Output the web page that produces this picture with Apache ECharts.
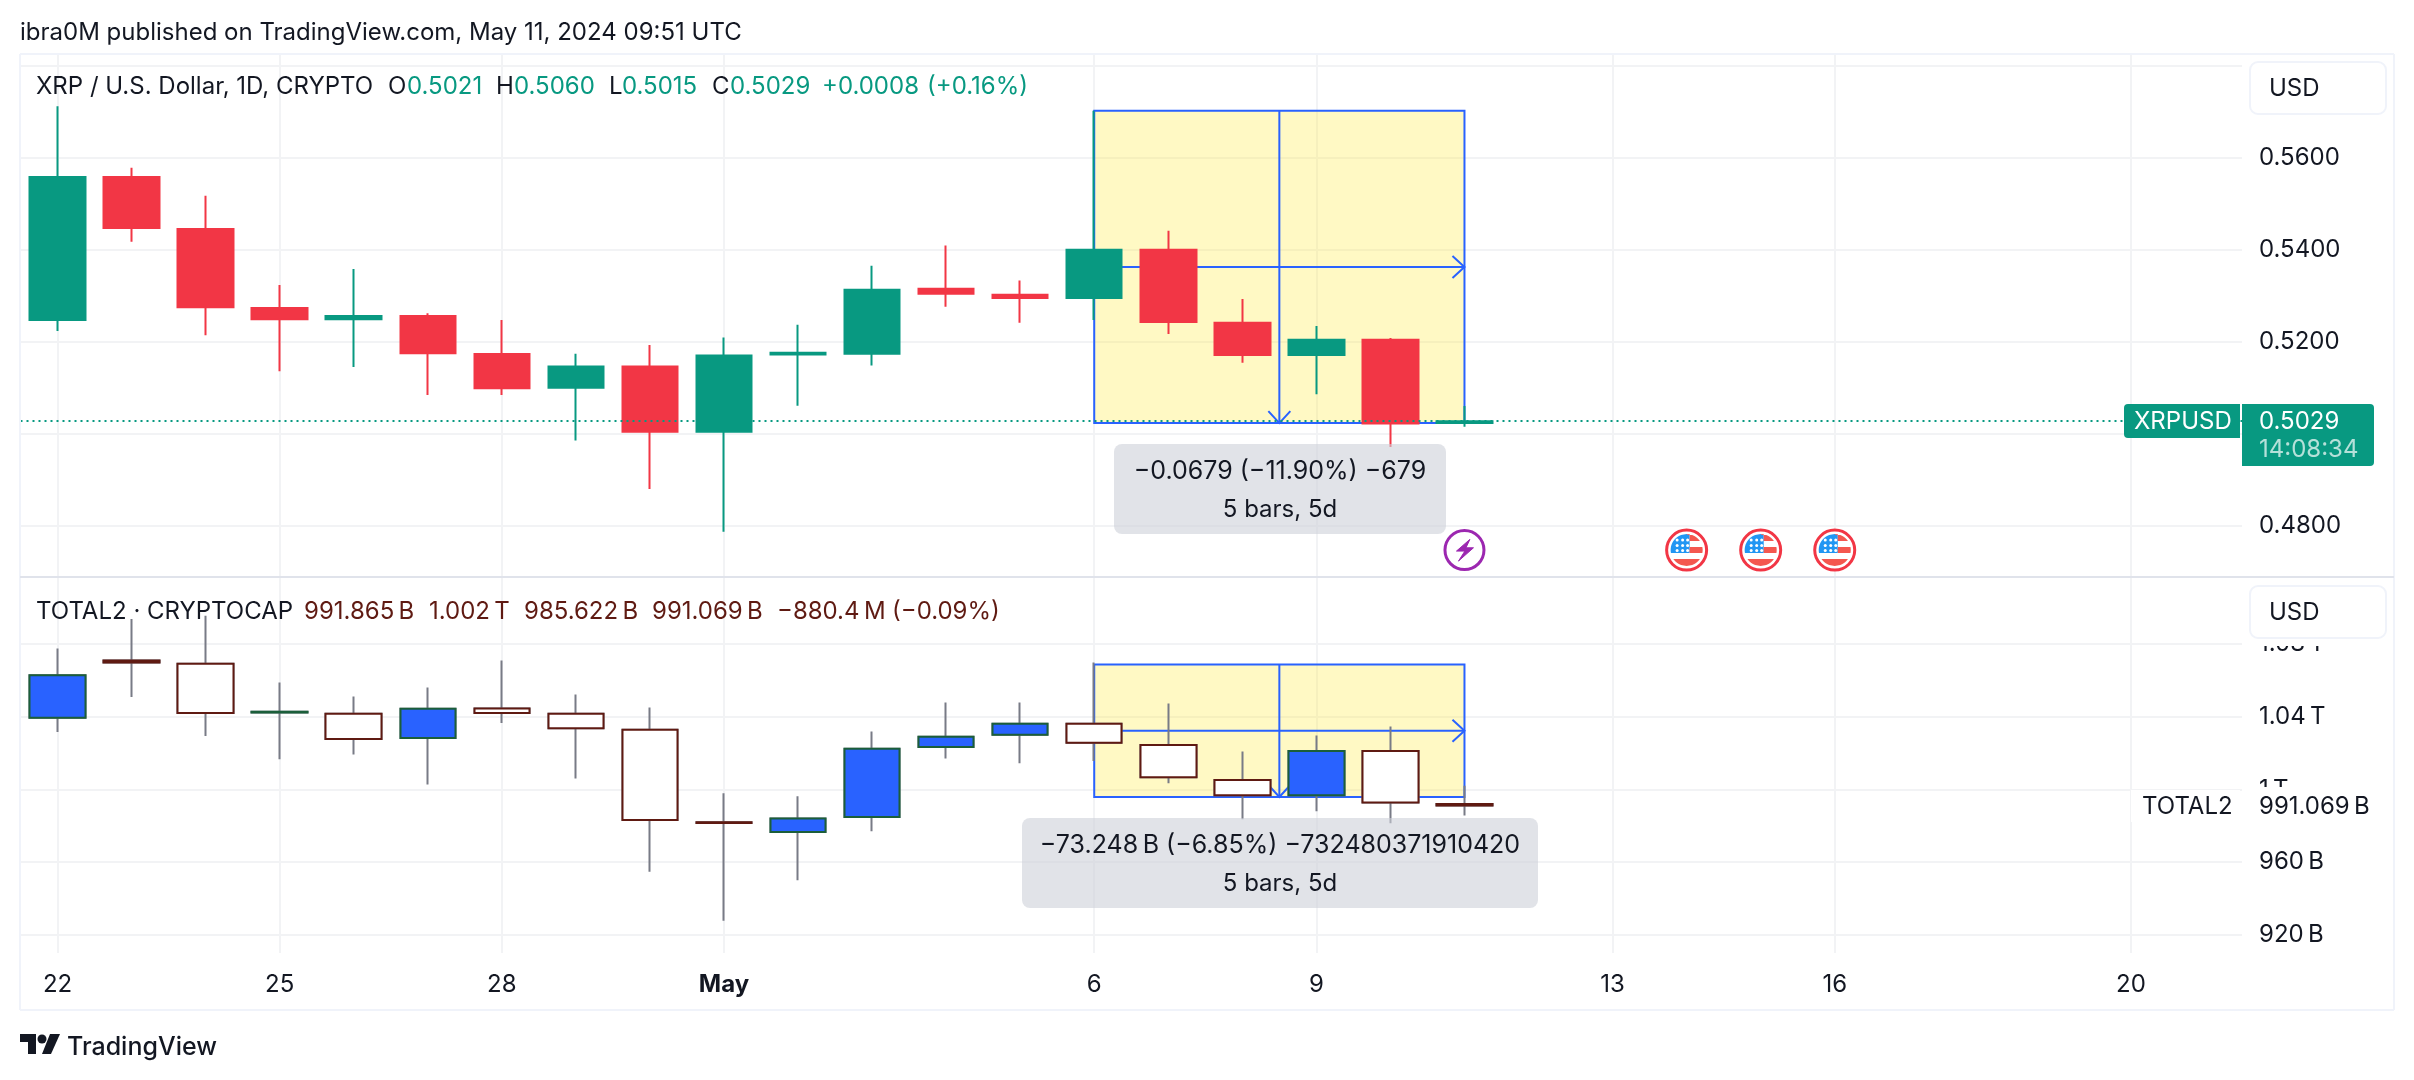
<!DOCTYPE html>
<html>
<head>
<meta charset="utf-8">
<title>XRP / TOTAL2</title>
<script src="https://cdn.jsdelivr.net/npm/echarts@6/dist/echarts.min.js"></script>
<style>
    html, body { margin: 0; background: #fff; }
    #chart { width: 2414px; height: 1080px; }
</style>
</head>
<body>
<div id="chart"></div>
<script>
// daily bars, Apr 22 onward (last 10 slots are empty future space)
const days = ['Apr 22', 'Apr 23', 'Apr 24', 'Apr 25', 'Apr 26', 'Apr 27', 'Apr 28', 'Apr 29', 'Apr 30', 'May 1',
    'May 2', 'May 3', 'May 4', 'May 5', 'May 6', 'May 7', 'May 8', 'May 9', 'May 10', 'May 11',
    'May 12', 'May 13', 'May 14', 'May 15', 'May 16', 'May 17', 'May 18', 'May 19', 'May 20', 'May 21']
const timeTickDays = ['Apr 22', 'Apr 25', 'Apr 28', 'May 1', 'May 6', 'May 9', 'May 13', 'May 16', 'May 20']
const timeTickLabels = ['22', '25', '28', 'May', '6', '9', '13', '16', '20']

// XRP / USD
const xrpOpen = [0.5245, 0.5560, 0.5447, 0.5275, 0.5247, 0.5258, 0.5175, 0.5098, 0.5148, 0.5002,
    0.5172, 0.5172, 0.5317, 0.5304, 0.5293, 0.5402, 0.5243, 0.5169, 0.5206, 0.5021]
const xrpClose = [0.5560, 0.5445, 0.5273, 0.5247, 0.5258, 0.5173, 0.5097, 0.5148, 0.5002, 0.5172,
    0.5176, 0.5315, 0.5302, 0.5293, 0.5402, 0.5241, 0.5169, 0.5206, 0.5020, 0.5029]
const xrpLow = [0.5223, 0.5417, 0.5214, 0.5136, 0.5145, 0.5084, 0.5084, 0.4985, 0.4880, 0.4787,
    0.5061, 0.5148, 0.5276, 0.5241, 0.5247, 0.5217, 0.5154, 0.5086, 0.4971, 0.5015]
const xrpHigh = [0.5712, 0.5578, 0.5517, 0.5323, 0.5358, 0.5262, 0.5247, 0.5174, 0.5193, 0.5209,
    0.5237, 0.5365, 0.5409, 0.5333, 0.5702, 0.5441, 0.5293, 0.5234, 0.5208, 0.5060]
const xrpLast = 0.5029
const xrpGridTicks = [0.48, 0.5, 0.52, 0.54, 0.56, 0.58]
const xrpLabelTicks = [0.48, 0.52, 0.54, 0.56]

// TOTAL2, in billions
const totalOpen = [1039.4, 1070.9, 1069.1, 1042.3, 1041.6, 1028.2, 1044.5, 1041.6, 1032.8, 981.9,
    976.5, 984.8, 1023.3, 1030.0, 1036.1, 1024.4, 1005.1, 996.7, 1021.1, 991.865]
const totalClose = [1062.8, 1069.8, 1042.0, 1042.7, 1027.7, 1044.3, 1042.0, 1033.7, 983.1, 981.5,
    983.9, 1022.4, 1029.0, 1036.1, 1025.6, 1006.6, 996.7, 1021.1, 992.7, 991.069]
const totalLow = [1031.5, 1050.8, 1029.3, 1016.5, 1019.2, 1002.7, 1036.5, 1006.0, 954.6, 927.6,
    950.0, 976.9, 1017.0, 1014.3, 1015.6, 1003.3, 983.5, 987.9, 981.3, 985.622]
const totalHigh = [1077.5, 1093.8, 1095.6, 1058.8, 1051.1, 1056.1, 1070.9, 1052.2, 1045.1, 997.8,
    996.2, 1031.9, 1047.8, 1047.8, 1069.8, 1047.3, 1020.9, 1029.7, 1034.6, 1002.0]
const totalGridTicks = [920, 960, 1000, 1040, 1080]

// measure tool ranges (May 6 -> May 11)
const measureDays = ['May 6', 'May 11']
const xrpMeasure = [0.5702, 0.5023]
const totalMeasure = [1068.7, 995.8]

// events under the XRP pane
const eventPrice = 0.4747
const boltDays = ['May 11']
const flagDays = ['May 14', 'May 15', 'May 16']

const GREEN = '#089981'
const RED = '#F23645'
const BLUE = '#2962FF'
const UP_EDGE = '#1B5E3A'
const DOWN_EDGE = '#5F1A12'
const WICK = '#787B86'
const TEXT = '#131722'
const MAROON = '#5F1A12'
const LINE = '#F0F3FA'
const GRID_LINE = '#F2F3F5'
const FONT = 'Inter'

const chart = echarts.init(document.getElementById('chart'))

function ohlc(open, close, low, high) {
    return open.map((o, i) => [o, close[i], low[i], high[i]])
}

// same as ohlc, but the body is pulled in by half the stroke width so the
// outer edge of the stroked body lands on the price
function insetOhlc(open, close, low, high, inset) {
    return open.map((o, i) => {
        const c = close[i]
        const dir = c > o ? 1 : -1
        const tall = Math.abs(c - o) > inset * 3
        return [tall ? o + dir * inset : o, tall ? c - dir * inset : c, low[i], high[i]]
    })
}

function isTimeTick(index) {
    return timeTickDays.includes(days[index])
}

// yellow range box with the two arrows of the TradingView measure tool
function renderMeasure(params, api) {
    const leftTop = api.coord([api.value(0), api.value(2)])
    const rightBottom = api.coord([api.value(1), api.value(3)])
    const x0 = leftTop[0]
    const y0 = leftTop[1]
    const x1 = rightBottom[0]
    const y1 = rightBottom[1]
    const mx = (x0 + x1) / 2
    const my = (y0 + y1) / 2
    const stroke = { stroke: BLUE, lineWidth: 2, fill: null }
    return {
        type: 'group',
        children: [
            { type: 'rect', shape: { x: x0, y: y0, width: x1 - x0, height: y1 - y0 }, style: { fill: 'rgba(255,235,59,0.3)', stroke: BLUE, lineWidth: 2 } },
            { type: 'line', shape: { x1: mx, y1: y0, x2: mx, y2: y1 }, style: stroke },
            { type: 'line', shape: { x1: x0, y1: my, x2: x1, y2: my }, style: stroke },
            { type: 'polyline', shape: { points: [[x1 - 12, my - 11], [x1, my], [x1 - 12, my + 11]] }, style: stroke },
            { type: 'polyline', shape: { points: [[mx - 11, y1 - 12], [mx, y1], [mx + 11, y1 - 12]] }, style: stroke },
        ],
    }
}

// part of a disc, used to draw the stripes of the flag
function discPart(x0, y0, x1, y1, r) {
    const left = []
    const right = []
    for (let y = y0; y <= y1; y += 1) {
        const half = Math.sqrt(Math.max(r * r - y * y, 0))
        left.push([Math.max(x0, -half), y])
        right.unshift([Math.min(x1, half), y])
    }
    return left.concat(right)
}

function renderBolt(params, api) {
    const p = api.coord([api.value(0), api.value(1)])
    return {
        type: 'group',
        x: p[0],
        y: p[1],
        children: [
            { type: 'circle', shape: { r: 19.5 }, style: { fill: '#fff', stroke: '#9C27B0', lineWidth: 3 } },
            { type: 'polygon', shape: { points: [[5.4, -10.7], [-8, 1], [0.4, 1], [-6, 11], [9, -2.3], [1.5, -2.3]] }, style: { fill: '#9C27B0', stroke: '#9C27B0', lineWidth: 1 } },
        ],
    }
}

function renderFlag(params, api) {
    const p = api.coord([api.value(0), api.value(1)])
    const children = [
        { type: 'circle', shape: { r: 20 }, style: { fill: '#fff', stroke: RED, lineWidth: 3 } },
        { type: 'polygon', shape: { points: discPart(-16, -16, 3, 3, 16) }, style: { fill: '#2196F3' } },
        { type: 'polygon', shape: { points: discPart(3, -16, 16, -9, 16) }, style: { fill: '#F4574F' } },
        { type: 'polygon', shape: { points: discPart(3, -3, 16, 3, 16) }, style: { fill: '#F4574F' } },
        { type: 'polygon', shape: { points: discPart(-16, 9, 16, 16, 16) }, style: { fill: '#F4574F' } },
    ]
    // white stars in the blue corner
    ;[-10, -4.5, 0.5].forEach((sy) => {
        ;[-9.5, -4, 1].forEach((sx) => {
            children.push({ type: 'circle', shape: { cx: sx, cy: sy, r: 1.5 }, style: { fill: '#fff' } })
        })
    })
    return { type: 'group', x: p[0], y: p[1], children: children }
}

function label(x, y, text, color, extra) {
    return {
        type: 'text',
        x: x,
        y: y + 1,
        z: 51,
        style: Object.assign({ text: text, fill: color || TEXT, font: '24px ' + FONT, verticalAlign: 'middle' }, extra),
    }
}

function panel(x, y, width, height, fill, extra) {
    return {
        type: 'rect',
        z: 50,
        shape: { x: x, y: y, width: width, height: height, r: (extra && extra.r) || 0 },
        style: Object.assign({ fill: fill }, extra && extra.style),
    }
}

function line(x1, y1, x2, y2, color) {
    return { type: 'line', z: 50, shape: { x1: x1, y1: y1, x2: x2, y2: y2 }, style: { stroke: color, lineWidth: 2 } }
}

const unitFormat = (value) => (value >= 1000 ? value / 1000 + '\u202fT' : value + '\u202fB')

const xAxisBase = {
    type: 'category',
    data: days,
    boundaryGap: true,
    axisLine: { show: false },
    axisTick: { show: false },
    splitLine: {
        show: true,
        alignWithLabel: true,
        interval: (index) => isTimeTick(index),
        lineStyle: { color: GRID_LINE, width: 2 },
    },
}

const yAxisBase = {
    type: 'value',
    position: 'right',
    scale: true,
    axisLine: { show: false },
    splitLine: { show: true, lineStyle: { color: GRID_LINE, width: 2 } },
}

const axisFont = { color: TEXT, fontFamily: FONT, fontSize: 24, margin: 17, align: 'left', padding: [6, 0, 0, 0] }

const option = {
    animation: false,
    backgroundColor: '#fff',
    textStyle: { fontFamily: FONT },
    grid: [
        { left: 20.5, width: 2221.5, top: 54, height: 523 },
        { left: 20.5, width: 2221.5, top: 577, height: 376 },
    ],
    xAxis: [
        Object.assign({}, xAxisBase, { gridIndex: 0, axisLabel: { show: false } }),
        Object.assign({}, xAxisBase, {
            gridIndex: 1,
            axisLabel: {
                color: TEXT,
                fontFamily: FONT,
                fontSize: 24,
                margin: 20,
                interval: (index) => isTimeTick(index),
                formatter: (value) => {
                    const text = timeTickLabels[timeTickDays.indexOf(value)]
                    return text === 'May' ? '{month|May}' : text
                },
                rich: { month: { fontFamily: FONT, fontSize: 24, fontWeight: 'bold', color: TEXT } },
            },
        }),
    ],
    yAxis: [
        Object.assign({}, yAxisBase, {
            gridIndex: 0,
            min: 0.46885,
            max: 0.58254,
            axisTick: { show: false, customValues: xrpGridTicks },
            axisLabel: Object.assign({}, axisFont, {
                customValues: xrpLabelTicks,
                formatter: (value) => value.toFixed(4),
            }),
        }),
        Object.assign({}, yAxisBase, {
            gridIndex: 1,
            min: 909.9,
            max: 1116.9,
            axisTick: { show: false, customValues: totalGridTicks },
            axisLabel: Object.assign({}, axisFont, {
                customValues: totalGridTicks,
                formatter: unitFormat,
            }),
        }),
    ],
    series: [
        {
            name: 'XRP measure',
            type: 'custom',
            xAxisIndex: 0,
            yAxisIndex: 0,
            z: 1,
            clip: false,
            renderItem: renderMeasure,
            data: [[days.indexOf(measureDays[0]), days.indexOf(measureDays[1]), xrpMeasure[0], xrpMeasure[1]]],
        },
        {
            name: 'XRPUSD',
            type: 'candlestick',
            xAxisIndex: 0,
            yAxisIndex: 0,
            z: 3,
            barWidth: 56,
            itemStyle: { color: GREEN, color0: RED, borderColor: GREEN, borderColor0: RED, borderWidth: 2 },
            data: insetOhlc(xrpOpen, xrpClose, xrpLow, xrpHigh, 0.0002),
            markLine: {
                silent: true,
                symbol: 'none',
                precision: 4,
                label: { show: false },
                lineStyle: { color: GREEN, type: [2, 4], width: 2 },
                data: [{ yAxis: xrpLast }],
            },
        },
        {
            name: 'Bolt',
            type: 'custom',
            xAxisIndex: 0,
            yAxisIndex: 0,
            z: 4,
            renderItem: renderBolt,
            data: boltDays.map((day) => [days.indexOf(day), eventPrice]),
        },
        {
            name: 'Economic events',
            type: 'custom',
            xAxisIndex: 0,
            yAxisIndex: 0,
            z: 4,
            renderItem: renderFlag,
            data: flagDays.map((day) => [days.indexOf(day), eventPrice]),
        },
        {
            name: 'TOTAL2 measure',
            type: 'custom',
            xAxisIndex: 1,
            yAxisIndex: 1,
            z: 1,
            clip: false,
            renderItem: renderMeasure,
            data: [[days.indexOf(measureDays[0]), days.indexOf(measureDays[1]), totalMeasure[0], totalMeasure[1]]],
        },
        {
            // gray wicks underneath, the bodies go on top in the next series
            name: 'TOTAL2 wicks',
            type: 'candlestick',
            xAxisIndex: 1,
            yAxisIndex: 1,
            z: 3,
            barWidth: 56,
            itemStyle: { color: '#fff', color0: '#fff', borderColor: WICK, borderColor0: WICK, borderWidth: 2 },
            data: ohlc(totalOpen, totalClose, totalLow, totalHigh),
        },
        {
            name: 'TOTAL2',
            type: 'candlestick',
            xAxisIndex: 1,
            yAxisIndex: 1,
            z: 4,
            barWidth: 56,
            itemStyle: { color: BLUE, color0: '#fff', borderColor: UP_EDGE, borderColor0: DOWN_EDGE, borderWidth: 2 },
            data: totalOpen.map((o, i) => [o, totalClose[i], Math.min(o, totalClose[i]), Math.max(o, totalClose[i])]),
        },
    ],
    graphic: [
        // frame
        line(20, 54, 2394, 54, LINE),
        line(20, 54, 20, 1010, LINE),
        line(2394, 54, 2394, 1010, LINE),
        line(20, 1010, 2394, 1010, LINE),
        line(20, 577, 2394, 577, '#E0E3EB'),

        label(20, 32, 'ibra0M published on TradingView.com, May 11, 2024 09:51 UTC'),

        // XRP legend
        label(36, 86, 'XRP / U.S. Dollar, 1D, CRYPTO'),
        label(388, 86, 'O'),
        label(407, 86, '0.5021', GREEN),
        label(496, 86, 'H'),
        label(514, 86, '0.5060', GREEN),
        label(609, 86, 'L'),
        label(622, 86, '0.5015', GREEN),
        label(712, 86, 'C'),
        label(730, 86, '0.5029', GREEN),
        label(822, 86, '+0.0008', GREEN),
        label(927, 86, '(+0.16%)', GREEN),

        // TOTAL2 legend
        label(36, 611, 'TOTAL2 \u00b7 CRYPTOCAP'),
        label(304, 611, '991.865\u202fB', MAROON),
        label(429, 611, '1.002\u202fT', MAROON),
        label(524, 611, '985.622\u202fB', MAROON),
        label(652, 611, '991.069\u202fB', MAROON),
        label(777, 611, '\u2212880.4\u202fM', MAROON),
        label(892, 611, '(\u22120.09%)', MAROON),

        // currency buttons
        panel(2243, 56, 150, 60, '#fff'),
        panel(2250, 62, 136, 52, '#fff', { r: 8, style: { stroke: LINE, lineWidth: 2 } }),
        label(2269, 88, 'USD'),
        panel(2243, 579, 150, 67, '#fff'),
        panel(2250, 586, 136, 52, '#fff', { r: 8, style: { stroke: LINE, lineWidth: 2 } }),
        label(2269, 612, 'USD'),

        // last price tags
        panel(2124, 404, 116, 34, GREEN, { r: [4, 0, 0, 4] }),
        label(2134, 421, 'XRPUSD', '#fff'),
        panel(2242, 404, 132, 62, GREEN, { r: [0, 4, 4, 0] }),
        label(2259, 421, '0.5029', '#fff'),
        label(2259, 449, '14:08:34', 'rgba(255,255,255,0.7)'),

        panel(2131, 790, 109, 32, '#fff'),
        panel(2243, 787, 150, 35, '#fff'),
        label(2142, 806, 'TOTAL2'),
        label(2259, 806, '991.069\u202fB'),

        // measure callouts
        panel(1114, 444, 332, 90, 'rgba(205,208,216,0.6)', { r: 8 }),
        label(1280, 470, '\u22120.0679 (\u221211.90%) \u2212679', TEXT, { align: 'center', font: '25px ' + FONT }),
        label(1280, 509, '5 bars, 5d', TEXT, { align: 'center' }),
        panel(1022, 818, 516, 90, 'rgba(205,208,216,0.6)', { r: 8 }),
        label(1280, 844, '\u221273.248\u202fB (\u22126.85%) \u2212732480371910420', TEXT, { align: 'center', font: '25px ' + FONT }),
        label(1280, 883, '5 bars, 5d', TEXT, { align: 'center' }),

        // TradingView logo
        { type: 'polygon', z: 50, shape: { points: [[20, 1034], [36, 1034], [36, 1054], [28, 1054], [28, 1042], [20, 1042]] }, style: { fill: TEXT } },
        { type: 'circle', z: 50, shape: { cx: 42, cy: 1039, r: 4.5 }, style: { fill: TEXT } },
        { type: 'polygon', z: 50, shape: { points: [[50, 1034], [60, 1034], [51, 1054], [42, 1054]] }, style: { fill: TEXT } },
        label(67, 1046, 'TradingView', TEXT, { font: '500 25px ' + FONT }),
    ],
}

chart.setOption(option)
</script>
</body>
</html>
